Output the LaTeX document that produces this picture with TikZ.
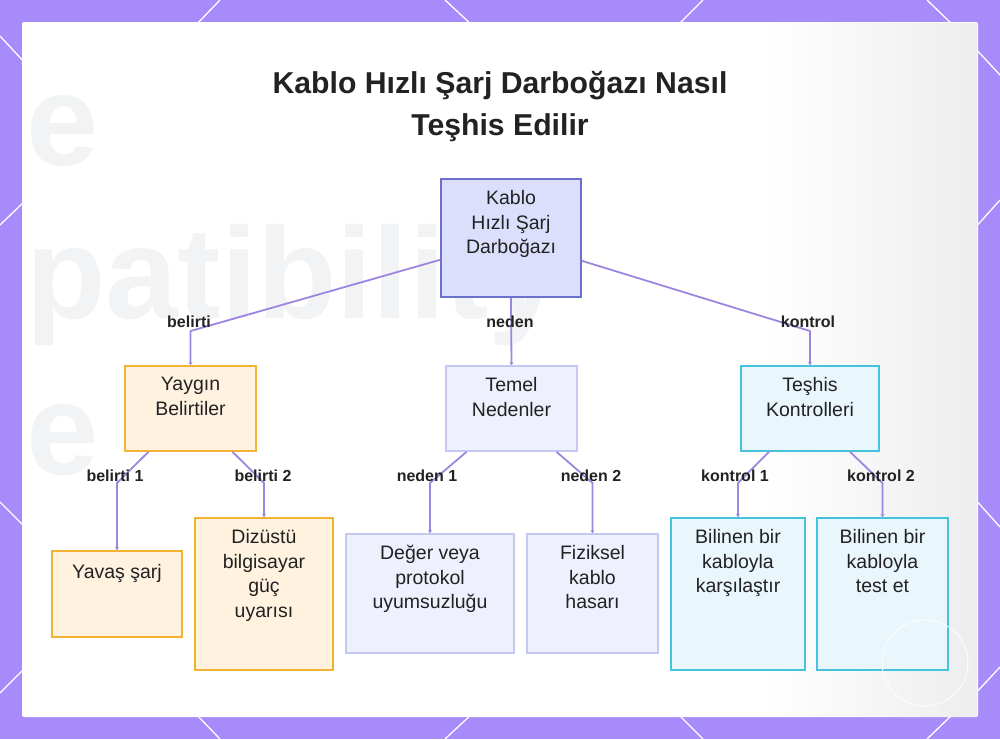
\documentclass[tikz,border=0pt]{standalone}
\usepackage{fontspec}
\setmainfont{Liberation Sans}
\usetikzlibrary{arrows.meta,calc}
\definecolor{bordp}{HTML}{A78BFA}
\definecolor{connc}{HTML}{9E86E0}
\definecolor{txtc}{HTML}{222222}
\definecolor{wmark}{HTML}{F2F3F4}
\definecolor{rootfill}{HTML}{DCDFFB}
\definecolor{rootdraw}{HTML}{6A70CC}
\definecolor{orfill}{HTML}{FFF3E0}
\definecolor{ordraw}{HTML}{F2B233}
\definecolor{lvfill}{HTML}{EEF0FD}
\definecolor{lvdraw}{HTML}{C5C9F2}
\definecolor{cyfill}{HTML}{E9F7FD}
\definecolor{cydraw}{HTML}{45C3DD}
\tikzset{
  boxbase/.style={rectangle, line width=1.6pt, inner sep=0pt},
  rootbox/.style={boxbase, fill=rootfill, draw=rootdraw},
  orbox/.style={boxbase, fill=orfill, draw=ordraw},
  lvbox/.style={boxbase, fill=lvfill, draw=lvdraw},
  cybox/.style={boxbase, fill=cyfill, draw=cydraw},
  boxtext/.style={anchor=north, inner sep=0pt, align=center, text=txtc,
    font=\fontsize{19.5}{24.5}\selectfont},
  conn/.style={draw=connc, line width=1.8pt, line join=round,
    -{Stealth[length=3pt,width=4pt]}},
  elabel/.style={inner sep=0pt, text=txtc, font=\bfseries\fontsize{16}{18}\selectfont},
  deco/.style={draw=white, line width=1.3pt},
  wmtext/.style={anchor=base west, inner sep=0pt, text=wmark, font=\bfseries\fontsize{130}{130}\selectfont},
}
\begin{document}
\begin{tikzpicture}[x=1pt,y=-1pt]
\useasboundingbox (0,0) rectangle (1000,739);
% background
\fill[bordp] (0,0) rectangle (1000,739);
\draw[deco] (195,26) -- (220,0);
\draw[deco] (445,0) -- (473,26);
\draw[deco] (677,26) -- (703,0);
\draw[deco] (927,0) -- (954,26);
\draw[deco] (195,713) -- (220,739);
\draw[deco] (473,713) -- (445,739);
\draw[deco] (677,713) -- (703,739);
\draw[deco] (954,713) -- (927,739);
\draw[deco] (0,36) -- (26,64);
\draw[deco] (0,225) -- (26,200);
\draw[deco] (0,502) -- (26,528);
\draw[deco] (0,693) -- (26,667);
\draw[deco] (974,47) -- (1000,75);
\draw[deco] (974,229) -- (1000,200);
\draw[deco] (974,498) -- (1000,527);
\draw[deco] (974,695) -- (1000,667);
% card
\fill[white, rounded corners=2pt] (22,22) rectangle (978,717);
\shade[left color=white, right color=black!7] (765,23) rectangle (977,716);
% faint watermark text
\node[wmtext] (wm1) at (26,165) {e};
\node[wmtext] (wm2) at (26,318) {patibility};
\node[wmtext] (wm3) at (26,474) {e};
% title
\node[anchor=base, inner sep=0pt, align=center, text=txtc, font=\bfseries\fontsize{30.2}{41.5}\selectfont] (title) at (500,135) {Kablo Hızlı Şarj Darboğazı Nasıl\\Teşhis Edilir};
% level coordinates
\coordinate (lvl1) at (0,331);
\coordinate (lvl2) at (0,483);
% boxes
\node[rootbox, minimum width=140pt, minimum height=118pt] (root) at (511,238) {};
\node[orbox, minimum width=131pt, minimum height=85pt] (yay) at (190.5,408.5) {};
\node[lvbox, minimum width=131pt, minimum height=85pt] (tem) at (511.5,408.5) {};
\node[cybox, minimum width=138pt, minimum height=85pt] (tes) at (810,408.5) {};
\node[orbox, minimum width=130pt, minimum height=86pt] (yav) at (117,594) {};
\node[orbox, minimum width=138pt, minimum height=152pt] (diz) at (264,594) {};
\node[lvbox, minimum width=168pt, minimum height=119pt] (deg) at (430,593.5) {};
\node[lvbox, minimum width=131pt, minimum height=119pt] (fiz) at (592.5,593.5) {};
\node[cybox, minimum width=134pt, minimum height=152pt] (bila) at (738,594) {};
\node[cybox, minimum width=131pt, minimum height=152pt] (bilb) at (882.5,594) {};
% connectors
\draw[conn] ($(root.south west)+(0,-38)$) -- (yay.north |- lvl1) -- (yay.north);
\draw[conn] (root.south) -- (tem.north);
\draw[conn] ($(root.south east)+(0,-37)$) -- (tes.north |- lvl1) -- (tes.north);
\draw[conn] ($(yay.south)+(-42,0)$) -- (yav.north |- lvl2) -- (yav.north);
\draw[conn] ($(yay.south)+(42,0)$) -- (diz.north |- lvl2) -- (diz.north);
\draw[conn] ($(tem.south)+(-45,0)$) -- (deg.north |- lvl2) -- (deg.north);
\draw[conn] ($(tem.south)+(45,0)$) -- (fiz.north |- lvl2) -- (fiz.north);
\draw[conn] ($(tes.south)+(-41,0)$) -- (bila.north |- lvl2) -- (bila.north);
\draw[conn] ($(tes.south)+(40,0)$) -- (bilb.north |- lvl2) -- (bilb.north);
% box texts
\node[boxtext] (rootT) at ($(root.north)+(0,12)$) {Kablo\\Hızlı Şarj\\Darboğazı};
\node[boxtext] (yayT) at ($(yay.north)+(0,12)$) {Yaygın\\Belirtiler};
\node[boxtext] (temT) at ($(tem.north)+(0,12)$) {Temel\\Nedenler};
\node[boxtext] (tesT) at ($(tes.north)+(0,12)$) {Teşhis\\Kontrolleri};
\node[boxtext] (yavT) at ($(yav.north)+(0,14)$) {Yavaş şarj};
\node[boxtext] (dizT) at ($(diz.north)+(0,12)$) {Dizüstü\\bilgisayar\\güç\\uyarısı};
\node[boxtext] (degT) at ($(deg.north)+(0,12)$) {Değer veya\\protokol\\uyumsuzluğu};
\node[boxtext] (fizT) at ($(fiz.north)+(0,12)$) {Fiziksel\\kablo\\hasarı};
\node[boxtext] (bilaT) at ($(bila.north)+(0,12)$) {Bilinen bir\\kabloyla\\karşılaştır};
\node[boxtext] (bilbT) at ($(bilb.north)+(0,12)$) {Bilinen bir\\kabloyla\\test et};
% edge labels
\node[elabel] (l1) at (189,322) {belirti};
\node[elabel] (l2) at (510,322) {neden};
\node[elabel] (l3) at (808,322) {kontrol};
\node[elabel] (l4) at (115,476) {belirti 1};
\node[elabel] (l5) at (263,476) {belirti 2};
\node[elabel] (l6) at (427,476) {neden 1};
\node[elabel] (l7) at (591,476) {neden 2};
\node[elabel] (l8) at (735,476) {kontrol 1};
\node[elabel] (l9) at (881,476) {kontrol 2};
% logo watermark circle
\draw[white, line width=0.9pt, opacity=0.9] (925,663) circle (43);
\end{tikzpicture}
\end{document}
